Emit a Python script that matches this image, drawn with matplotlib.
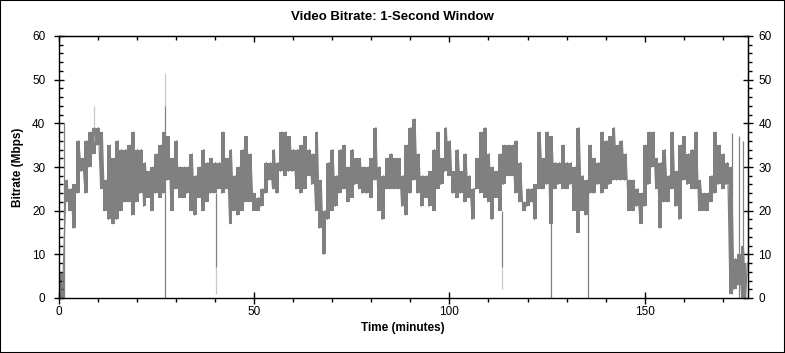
import numpy as np
import matplotlib.pyplot as plt
from matplotlib.patches import Rectangle
from matplotlib.ticker import MultipleLocator

plt.rcParams["font.family"] = ["Liberation Sans", "DejaVu Sans"]

# per-minute envelope of the 1-second bitrate (Mbps), minute 0..176
minutes = np.arange(0, 177)
bitrate_lo = [
    0, 0, 22, 20, 16, 24, 29, 24, 30, 33, 35, 25, 20, 18, 17, 18, 20, 22, 22, 19,
    22, 24, 21, 23, 20, 24, 23, 24, 27, 20, 25, 23, 23, 24, 20, 19, 23, 20, 22, 24,
    24, 25, 24, 25, 17, 20, 19, 20, 22, 22, 20, 20, 21, 24, 27, 25, 24, 29, 28, 29,
    29, 25, 24, 25, 28, 26, 20, 16, 10, 18, 20, 21, 24, 25, 22, 23, 26, 25, 24, 24,
    23, 27, 20, 18, 25, 25, 25, 25, 21, 19, 24, 27, 24, 21, 23, 21, 20, 25, 26, 29,
    28, 24, 23, 24, 22, 23, 18, 25, 24, 23, 22, 18, 23, 20, 26, 28, 28, 24, 22, 20,
    21, 22, 18, 25, 25, 26, 17, 25, 26, 25, 25, 26, 20, 15, 20, 19, 24, 24, 26, 24,
    25, 26, 27, 27, 27, 27, 20, 20, 21, 17, 21, 26, 30, 25, 16, 22, 22, 25, 21, 18,
    27, 26, 25, 25, 20, 20, 20, 22, 24, 26, 25, 26, 1, 2, 3, 0, 0,
]
bitrate_hi = [
    4, 6, 27, 25, 26, 36, 32, 36, 38, 39, 39, 38, 27, 35, 32, 36, 34, 34, 35, 38,
    34, 34, 31, 29, 30, 33, 35, 38, 37, 32, 36, 30, 30, 30, 33, 28, 30, 34, 31, 32,
    31, 31, 38, 32, 34, 28, 30, 34, 37, 33, 24, 23, 25, 31, 31, 34, 31, 38, 38, 37,
    34, 34, 35, 37, 34, 33, 38, 27, 20, 31, 34, 28, 34, 35, 30, 34, 32, 32, 30, 30,
    32, 39, 30, 28, 32, 33, 32, 32, 28, 35, 39, 41, 33, 28, 28, 29, 34, 38, 32, 39,
    36, 29, 34, 29, 33, 28, 25, 32, 38, 39, 33, 30, 29, 33, 35, 35, 35, 36, 31, 22,
    25, 25, 26, 38, 32, 38, 37, 31, 31, 35, 31, 31, 30, 39, 28, 27, 35, 32, 31, 38,
    36, 37, 39, 35, 36, 33, 27, 27, 25, 24, 35, 38, 38, 32, 31, 34, 28, 38, 29, 35,
    37, 33, 34, 38, 27, 24, 24, 28, 38, 35, 33, 31, 30, 9, 10, 12, 8,
]

# isolated one-second spikes / drop-outs
spike_t = [1.4, 27.3, 40.2, 113.5, 125.9, 135.5, 172.2, 174.0, 175.0]
spike_lo = [0, 0, 7, 7, 0, 0, 1, 0, 0]
spike_hi = [40, 44, 24, 20, 26, 25, 37.7, 37, 36]
peak_t = [9.0, 27.3, 40.2, 113.5]
peak_lo = [36, 44, 1, 2]
peak_hi = [44, 51.5, 7, 7]

LINE = "#808080"
LIGHT = "#c8c8c8"

fig = plt.figure(figsize=(7.85, 3.53), dpi=100)
ax = fig.add_axes([58.5 / 785, 55 / 353, (748 - 58.5) / 785, (298 - 36) / 353])

# solid band between the envelopes, with an up/down stroke per minute on top
# so the edges stay jagged like the dense 1-second trace
t = np.column_stack([minutes - 0.2, minutes + 0.2]).ravel()
v = np.column_stack([bitrate_lo, bitrate_hi]).ravel()
ax.vlines(peak_t, peak_lo, peak_hi, color=LIGHT, linewidth=0.9)
ax.fill_between(minutes, bitrate_lo, bitrate_hi, step="mid", color=LINE,
                linewidth=0)
ax.plot(t, v, color=LINE, linewidth=0.9)
ax.vlines(spike_t, spike_lo, spike_hi, color=LINE, linewidth=0.9)

ax.set_xlim(0, 176.4)
ax.set_ylim(0, 60)
ax.xaxis.set_major_locator(MultipleLocator(50))
ax.xaxis.set_minor_locator(MultipleLocator(10))
ax.yaxis.set_major_locator(MultipleLocator(10))
ax.yaxis.set_minor_locator(MultipleLocator(2))

for side in ax.spines.values():
    side.set_linewidth(1.0)

ax.tick_params(axis="x", which="major", direction="inout", length=8, width=1,
               labelsize=8.5, pad=2, top=False)
ax.tick_params(axis="x", which="minor", direction="out", length=3, width=1, top=False)
ax.tick_params(axis="y", which="major", direction="inout", length=7, width=1,
               labelsize=8.5, pad=6, right=False)
ax.tick_params(axis="y", which="minor", direction="in", length=3, width=1, right=False)

top = ax.secondary_xaxis("top")
top.xaxis.set_major_locator(MultipleLocator(50))
top.xaxis.set_minor_locator(MultipleLocator(10))
top.tick_params(which="major", direction="in", length=4, width=1, labeltop=False)
top.tick_params(which="minor", direction="in", length=3, width=1)

right = ax.secondary_yaxis("right")
right.yaxis.set_major_locator(MultipleLocator(10))
right.yaxis.set_minor_locator(MultipleLocator(2))
right.tick_params(which="major", direction="inout", length=7, width=1,
                  labelsize=8.5, pad=4)
right.tick_params(which="minor", direction="out", length=3, width=1)

ax.set_xlabel("Time (minutes)", fontsize=8.5, fontweight="bold", labelpad=3)
ax.set_ylabel("Bitrate (Mbps)", fontsize=8.5, fontweight="bold", labelpad=6)
fig.text(0.5, 1 - 17 / 353, "Video Bitrate: 1-Second Window", ha="center",
         va="center", fontsize=9.5, fontweight="bold")

fig.patches.append(Rectangle((0, 0), 1, 1, transform=fig.transFigure, fill=False,
                             edgecolor="black", linewidth=1.5))

fig.savefig("out.png", dpi=100)
